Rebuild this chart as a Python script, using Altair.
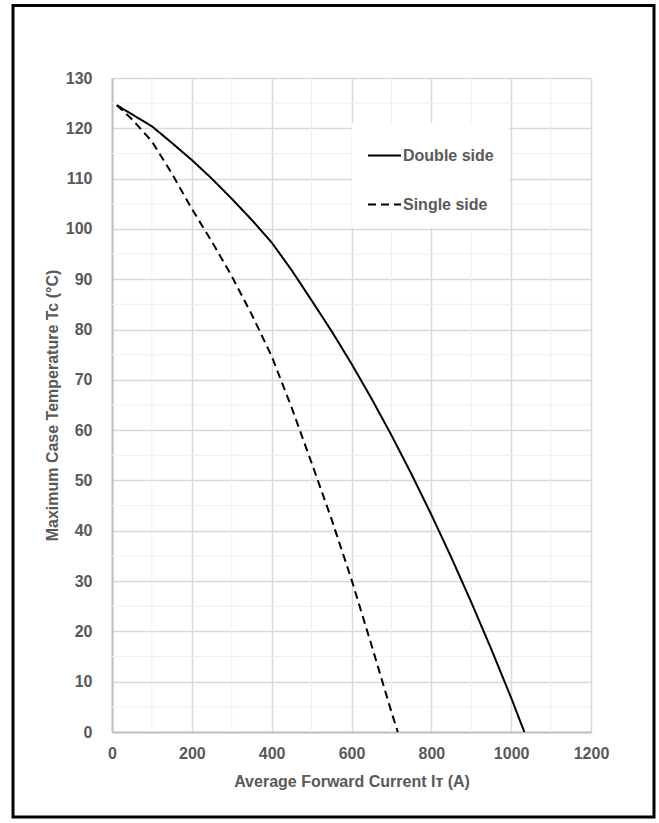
import altair as alt
import pandas as pd

# ---- data ----
series_names = ["Double side", "Single side"]

x_double = [12, 100, 150, 200, 250, 300, 350, 400, 450, 500, 550, 600, 650,
            700, 750, 800, 850, 900, 950, 1000, 1033]
t_double = [124.6, 120.4, 117.1, 113.7, 110.0, 106.0, 101.8, 97.3, 91.8, 85.8,
            79.7, 73.2, 66.3, 59.0, 51.3, 43.2, 34.7, 25.8, 16.5, 6.8, 0.0]

x_single = [12, 50, 100, 150, 200, 250, 300, 350, 400, 450, 500, 550, 600,
            650, 700, 716]
t_single = [124.6, 121.8, 117.4, 111.0, 104.0, 97.5, 90.6, 83.0, 74.7, 64.5,
            53.5, 42.3, 30.3, 17.3, 4.0, 0.0]

x_major = [0, 200, 400, 600, 800, 1000, 1200]
x_minor = [100, 300, 500, 700, 900, 1100]
y_major = [0, 10, 20, 30, 40, 50, 60, 70, 80, 90, 100, 110, 120, 130]
y_minor = [5, 15, 25, 35, 45, 55, 65, 75, 85, 95, 105, 115, 125]

FONT = "Liberation Sans"
GRAY_TXT = "#595959"

df = pd.DataFrame(
    {"current": x_double + x_single,
     "temp": t_double + t_single,
     "series": [series_names[0]] * len(x_double) + [series_names[1]] * len(x_single),
     "order": list(range(len(x_double))) + list(range(len(x_single)))}
)
df_vminor = pd.DataFrame({"v": x_minor})
df_hminor = pd.DataFrame({"h": y_minor})

xscale = alt.Scale(domain=[0, 1200], nice=False, zero=False)
yscale = alt.Scale(domain=[0, 130], nice=False, zero=False)

axis_common = dict(
    grid=True, gridColor="#d9d9d9", gridWidth=1.5,
    domainColor="#bfbfbf", domainWidth=2, ticks=False, format="d",
    labelFont=FONT, labelFontSize=16, labelFontWeight="bold", labelColor=GRAY_TXT,
    titleFont=FONT, titleFontSize=16, titleFontWeight="bold", titleColor=GRAY_TXT,
    labelOverlap=False, labelFlush=False,
)

minor_v = alt.Chart(df_vminor).mark_rule(color="#efefef", strokeWidth=1).encode(
    x=alt.X("v:Q", scale=xscale), y=alt.value(0), y2=alt.value(654)
)
minor_h = alt.Chart(df_hminor).mark_rule(color="#efefef", strokeWidth=1).encode(
    y=alt.Y("h:Q", scale=yscale), x=alt.value(0), x2=alt.value(479)
)

lines = alt.Chart(df).mark_line(color="black", strokeWidth=2).encode(
    x=alt.X("current:Q", scale=xscale,
            axis=alt.Axis(values=x_major, title="Average Forward Current Iᴛ (A)",
                          labelPadding=13, titleY=54, titleBaseline="alphabetic",
                          **axis_common)),
    y=alt.Y("temp:Q", scale=yscale,
            axis=alt.Axis(values=y_major, title="Maximum Case Temperature Tc (°C)",
                          labelPadding=20, titleX=-55, titleY=327, titleAngle=270,
                          titleBaseline="alphabetic", titleAlign="center",
                          **axis_common)),
    strokeDash=alt.StrokeDash(
        "series:N",
        scale=alt.Scale(domain=series_names, range=[[1, 0], [8, 5]]),
        legend=alt.Legend(
            title=None, orient="none", legendX=240, legendY=45,
            fillColor="white", padding=15, rowPadding=23,
            symbolType="stroke", symbolSize=1089, symbolStrokeWidth=2,
            symbolStrokeColor="black", labelOffset=1,
            labelFont=FONT, labelFontSize=16, labelFontWeight="bold",
            labelColor=GRAY_TXT,
        ),
    ),
    order="order:Q",
)

frame = alt.Chart(pd.DataFrame({"a": [0]})).mark_rect(
    fillOpacity=0, stroke="black", strokeWidth=3
).encode(x=alt.value(-99), x2=alt.value(542), y=alt.value(-72.5), y2=alt.value(739))

chart = alt.layer(minor_v, minor_h, lines, frame).properties(
    width=479, height=654,
    autosize=alt.AutoSizeParams(type="none"),
    padding={"left": 112, "top": 78, "right": 68, "bottom": 91},
    background="white",
).configure_view(stroke=None)

chart.save("out.html", embed_options={"renderer": "svg", "actions": False})
